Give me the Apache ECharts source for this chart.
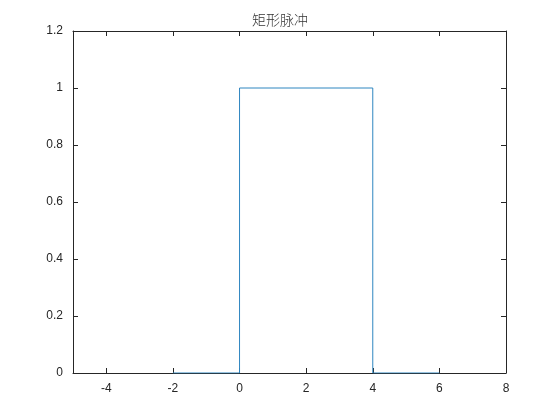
<!DOCTYPE html>
<html><head><meta charset="utf-8">
<script src="https://cdn.jsdelivr.net/npm/echarts@6/dist/echarts.min.js"></script>
<style>html,body{margin:0;padding:0;background:#fff}#c{width:560px;height:420px}</style>
</head><body><div id="c"></div>
<script>
const title = '矩形脉冲';
const tValues = [-2, 0, 0, 4, 4, 6];
const yValues = [0, 0, 1, 1, 0, 0];
const xTicks = [-4, -2, 0, 2, 4, 6, 8];
const yTicks = [0, 0.2, 0.4, 0.6, 0.8, 1, 1.2];

const chart = echarts.init(document.getElementById('c'), null, {renderer: 'canvas'});
const axisCommon = {
  axisLine: {show: true, onZero: false, lineStyle: {color: '#262626', width: 1}},
  splitLine: {show: false}
};
const tickStyle = {show: true, inside: true, length: 5, lineStyle: {color: '#262626'}};
const labelStyle = {color: '#262626', fontSize: 12, fontFamily: 'Liberation Sans, Arial, sans-serif'};
chart.setOption({
  animation: false,
  title: {text: title, left: 'center', top: 8, textStyle: {fontSize: 14, fontWeight: 300, color: '#333333', fontFamily: 'Noto Sans CJK SC'}},
  grid: {left: 73, right: 54, top: 31, bottom: 47},
  xAxis: [
    Object.assign({type: 'value', position: 'bottom', min: -5, max: 8,
      axisTick: Object.assign({customValues: xTicks}, tickStyle),
      axisLabel: Object.assign({margin: 10, customValues: xTicks}, labelStyle)}, axisCommon),
    Object.assign({type: 'value', position: 'top', min: -5, max: 8,
      axisTick: Object.assign({customValues: xTicks}, tickStyle),
      axisLabel: {show: false}}, axisCommon)
  ],
  yAxis: [
    Object.assign({type: 'value', position: 'left', min: 0, max: 1.2,
      axisTick: Object.assign({customValues: yTicks}, tickStyle),
      axisLabel: Object.assign({margin: 10, customValues: yTicks}, labelStyle)}, axisCommon),
    Object.assign({type: 'value', position: 'right', min: 0, max: 1.2,
      axisTick: Object.assign({customValues: yTicks}, tickStyle),
      axisLabel: {show: false}}, axisCommon)
  ],
  series: [{
    type: 'line',
    xAxisIndex: 0, yAxisIndex: 0,
    data: tValues.map((t, i) => [t, yValues[i]]),
    showSymbol: false,
    lineStyle: {color: '#2f86c0', width: 1},
    itemStyle: {color: '#2f86c0'}
  }]
});
</script></body></html>
